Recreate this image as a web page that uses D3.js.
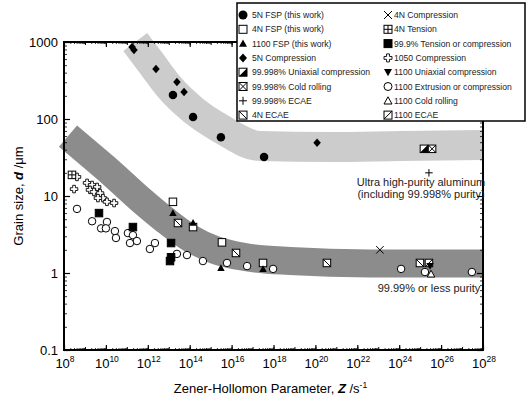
<!DOCTYPE html>
<html>
<head>
<meta charset="utf-8">
<script src="https://cdn.jsdelivr.net/npm/d3@7"></script>
<style>
body { margin: 0; background: #fff; }
svg { font-family: "Liberation Sans", Arial, sans-serif; }
</style>
</head>
<body>
<div id="vis"></div>
<script>
// every point is [log10 Z, d in um]
var fsp5N = [[13.20, 205], [14.16, 106], [15.49, 58], [17.55, 32]];
var fsp4N = [[13.20, 8.4], [14.16, 3.95], [15.54, 2.5], [17.50, 1.35]];
var fsp1100 = [[13.20, 6.0], [14.16, 4.5], [15.49, 1.16], [17.50, 1.13]];
var comp5N = [[11.25, 860], [11.34, 790], [12.39, 446], [13.39, 303], [13.73, 224], [20.08, 49]];
var uni99998 = [[25.18, 41]];
var roll99998 = [[25.57, 41]];
var ecae99998 = [[25.42, 20]];
var ecae4N = [[13.44, 4.46], [16.21, 1.82], [20.55, 1.35], [24.99, 1.35]];
var comp4N = [[23.08, 2.0]];
var tens4N = [[8.38, 18.8]];
var tc999 = [[9.67, 6.0], [11.29, 3.95], [13.11, 2.45], [13.11, 1.6], [13.06, 1.43]];
var comp1050 = [[8.62, 17.7], [8.48, 12.3], [9.10, 14.8], [9.34, 13.9], [9.24, 12.0], [9.58, 13.1],
                [9.43, 11.3], [9.72, 10.9], [9.86, 9.4], [10.05, 8.4], [10.39, 8.1], [9.62, 9.4]];
var uni1100 = [[25.47, 1.23]];
var ext1100 = [[8.62, 6.8], [9.34, 4.7], [10.05, 4.6], [9.77, 3.8], [10.00, 3.8], [10.43, 3.5],
               [10.48, 2.85], [11.05, 3.3], [11.29, 3.1], [11.15, 2.45], [11.48, 2.6], [12.10, 2.05],
               [12.34, 2.45], [13.39, 1.77], [13.87, 1.71], [14.63, 1.43], [15.78, 1.35], [16.74, 1.23],
               [17.98, 1.13], [24.09, 1.13], [25.23, 1.03], [27.47, 1.03]];
var roll1100 = [[25.52, 0.97]];
var ecae1100 = [[25.42, 1.35]];

// trend bands (centre lines)
var bandLow = [[8.19, 60], [9.15, 36], [10.20, 20.5], [11.63, 9.1], [12.82, 4.9], [14.01, 2.85],
               [15.21, 1.99], [16.64, 1.61], [18.79, 1.43], [22.61, 1.33], [28, 1.33]];
var bandHigh = [[11.40, 1000], [12.10, 560], [13.06, 253], [14.16, 131], [15.45, 76],
                [17.36, 44.6], [20.70, 43.3], [24.04, 44.6], [28, 45.9]];

var xExps = [8, 10, 12, 14, 16, 18, 20, 22, 24, 26, 28];
var yTicks = [0.1, 1, 10, 100, 1000];
var yLabels = ["0.1", "1", "10", "100", "1000"];

var series = [
  {name: "5N FSP (this work)", type: "circleFill", pts: fsp5N},
  {name: "4N FSP (this work)", type: "squareOpen", pts: fsp4N},
  {name: "1100 FSP (this work)", type: "triUpFill", pts: fsp1100},
  {name: "5N Compression", type: "diamondFill", pts: comp5N},
  {name: "99.998% Uniaxial compression", type: "squareHalf", pts: uni99998},
  {name: "99.998% Cold rolling", type: "squareX", pts: roll99998},
  {name: "99.998% ECAE", type: "plus", pts: ecae99998},
  {name: "4N ECAE", type: "squareDiagDown", pts: ecae4N},
  {name: "4N Compression", type: "cross", pts: comp4N},
  {name: "4N Tension", type: "squarePlus", pts: tens4N},
  {name: "99.9% Tension or compression", type: "squareFill", pts: tc999},
  {name: "1050 Compression", type: "greekCross", pts: comp1050},
  {name: "1100 Uniaxial compression", type: "triDownFill", pts: uni1100},
  {name: "1100 Extrusion or compression", type: "circleOpen", pts: ext1100},
  {name: "1100 Cold rolling", type: "triUpOpen", pts: roll1100},
  {name: "1100 ECAE", type: "squareDiagUp", pts: ecae1100}
];

var width = 529, height = 402;
var margin = {top: 42, right: 46, bottom: 52, left: 64};

var svg = d3.select("#vis").append("svg")
  .attr("width", width)
  .attr("height", height);

var x = d3.scaleLog().domain([1e8, 1e28]).range([margin.left, width - margin.right]);
var y = d3.scaleLog().domain([0.1, 1000]).range([height - margin.bottom, margin.top]);

function px(d) { return x(Math.pow(10, d[0])); }
function py(d) { return y(d[1]); }

// bands
var bandLine = d3.line().x(px).y(py).curve(d3.curveMonotoneX);

svg.append("path")
  .attr("d", bandLine(bandHigh))
  .attr("fill", "none")
  .attr("stroke", "#cccccc")
  .attr("stroke-width", 30);

svg.append("path")
  .attr("d", bandLine(bandLow))
  .attr("fill", "none")
  .attr("stroke", "#8c8c8c")
  .attr("stroke-width", 28);

// ticks
var xMinor = [], xDecade = [];
for (var e = 8; e < 28; e++) {
  xDecade.push(Math.pow(10, e));
  for (var m = 2; m < 10; m++) xMinor.push(m * Math.pow(10, e));
}
var yMinor = [];
for (var e2 = -1; e2 < 3; e2++) {
  for (var m2 = 2; m2 < 10; m2++) yMinor.push(m2 * Math.pow(10, e2));
}
var xMajor = xExps.map(function(e) { return Math.pow(10, e); });

var x0 = margin.left, x1 = width - margin.right;
var y0 = height - margin.bottom, y1 = margin.top;

function tickSet(vals, len, sw) {
  svg.append("g").attr("transform", "translate(0," + y0 + ")")
    .call(d3.axisBottom(x).tickValues(vals).tickSize(-len).tickFormat(""))
    .call(function(g) { g.select(".domain").remove(); g.selectAll("line").attr("stroke-width", sw); });
  svg.append("g").attr("transform", "translate(0," + y1 + ")")
    .call(d3.axisTop(x).tickValues(vals).tickSize(-len).tickFormat(""))
    .call(function(g) { g.select(".domain").remove(); g.selectAll("line").attr("stroke-width", sw); });
}
tickSet(xMinor, 2, 0.8);
tickSet(xDecade, 3, 1);
tickSet(xMajor, 5, 1.2);

function yTickSet(vals, len, sw) {
  svg.append("g").attr("transform", "translate(" + x0 + ",0)")
    .call(d3.axisLeft(y).tickValues(vals).tickSize(-len).tickFormat(""))
    .call(function(g) { g.select(".domain").remove(); g.selectAll("line").attr("stroke-width", sw); });
  svg.append("g").attr("transform", "translate(" + x1 + ",0)")
    .call(d3.axisRight(y).tickValues(vals).tickSize(-len).tickFormat(""))
    .call(function(g) { g.select(".domain").remove(); g.selectAll("line").attr("stroke-width", sw); });
}
yTickSet(yMinor, 3, 0.8);
yTickSet(yTicks, 6, 1.2);

// frame
svg.append("rect")
  .attr("x", x0).attr("y", y1)
  .attr("width", x1 - x0).attr("height", y0 - y1)
  .attr("fill", "none")
  .attr("stroke", "#000")
  .attr("stroke-width", 2);

// tick labels
svg.selectAll(".ylab")
  .data(yTicks)
  .enter().append("text")
  .attr("x", x0 - 6)
  .attr("y", function(d) { return y(d); })
  .attr("dy", "0.36em")
  .attr("text-anchor", "end")
  .attr("font-size", 13)
  .text(function(d, i) { return yLabels[i]; });

var xl = svg.selectAll(".xlab")
  .data(xExps)
  .enter().append("text")
  .attr("x", function(d) { return x(Math.pow(10, d)) + 1; })
  .attr("y", y0 + 18)
  .attr("text-anchor", "middle")
  .attr("font-size", 13)
  .text("10");
xl.append("tspan")
  .attr("dy", -6)
  .attr("font-size", 8.5)
  .text(function(d) { return d; });

// axis titles
var xt = svg.append("text")
  .attr("x", (x0 + x1) / 2 - 3)
  .attr("y", 393)
  .attr("text-anchor", "middle")
  .attr("font-size", 13)
  .text("Zener-Hollomon Parameter, ");
xt.append("tspan").attr("font-weight", "bold").attr("font-style", "italic").text("Z");
xt.append("tspan").text(" /s");
xt.append("tspan").attr("dy", -5).attr("font-size", 8.5).text("-1");

var yt = svg.append("text")
  .attr("transform", "translate(23," + ((y0 + y1) / 2) + ") rotate(-90)")
  .attr("text-anchor", "middle")
  .attr("font-size", 13)
  .text("Grain size, ");
yt.append("tspan").attr("font-weight", "bold").attr("font-style", "italic").text("d");
yt.append("tspan").text(" /\u03bcm");

// markers
function marker(g, type, s) {
  var h = s / 2;
  var sq = function(fill) {
    return g.append("rect").attr("x", -h).attr("y", -h).attr("width", s).attr("height", s)
      .attr("fill", fill).attr("stroke", "#000").attr("stroke-width", 1);
  };
  var ln = function(a, b, c, d) {
    g.append("line").attr("x1", a).attr("y1", b).attr("x2", c).attr("y2", d)
      .attr("stroke", "#000").attr("stroke-width", 1);
  };
  switch (type) {
    case "circleFill":
      g.append("circle").attr("r", h + 0.5).attr("fill", "#000"); break;
    case "circleOpen":
      g.append("circle").attr("r", h).attr("fill", "#fff").attr("stroke", "#000"); break;
    case "squareOpen": sq("#fff"); break;
    case "squareFill": sq("#000"); break;
    case "triUpFill":
      g.append("path").attr("d", "M0," + (-h) + "L" + h + "," + (h * 0.8) + "L" + (-h) + "," + (h * 0.8) + "Z")
        .attr("fill", "#000"); break;
    case "triUpOpen":
      g.append("path").attr("d", "M0," + (-h) + "L" + h + "," + (h * 0.8) + "L" + (-h) + "," + (h * 0.8) + "Z")
        .attr("fill", "#fff").attr("stroke", "#000"); break;
    case "triDownFill":
      g.append("path").attr("d", "M0," + h + "L" + h + "," + (-h * 0.8) + "L" + (-h) + "," + (-h * 0.8) + "Z")
        .attr("fill", "#000"); break;
    case "diamondFill":
      g.append("path").attr("d", "M0," + (-h - 0.5) + "L" + h + ",0L0," + (h + 0.5) + "L" + (-h) + ",0Z")
        .attr("fill", "#000"); break;
    case "squareHalf":
      sq("#fff");
      g.append("path").attr("d", "M" + (-h) + "," + h + "L" + h + "," + h + "L" + h + "," + (-h) + "Z")
        .attr("fill", "#000"); break;
    case "squareX":
      sq("#fff"); ln(-h, -h, h, h); ln(-h, h, h, -h); break;
    case "squarePlus":
      sq("#fff"); ln(0, -h, 0, h); ln(-h, 0, h, 0); break;
    case "squareDiagDown":
      sq("#fff"); ln(-h, -h, h, h); break;
    case "squareDiagUp":
      sq("#fff"); ln(-h, h, h, -h); break;
    case "plus":
      ln(0, -h, 0, h); ln(-h, 0, h, 0); break;
    case "cross":
      ln(-h, -h, h, h); ln(-h, h, h, -h); break;
    case "greekCross":
      var a = s * 0.18;
      g.append("path").attr("d",
        "M" + (-a) + "," + (-h) + "L" + a + "," + (-h) + "L" + a + "," + (-a) + "L" + h + "," + (-a) +
        "L" + h + "," + a + "L" + a + "," + a + "L" + a + "," + h + "L" + (-a) + "," + h +
        "L" + (-a) + "," + a + "L" + (-h) + "," + a + "L" + (-h) + "," + (-a) + "L" + (-a) + "," + (-a) + "Z")
        .attr("fill", "#fff").attr("stroke", "#000").attr("stroke-width", 0.9); break;
  }
}

// draw open circles and crosses first, the rest on top
var drawOrder = [13, 11, 9, 0, 3, 1, 2, 10, 7, 15, 12, 14, 8, 4, 5, 6];
drawOrder.forEach(function(i) {
  var s = series[i];
  svg.append("g").selectAll("g")
    .data(s.pts)
    .enter().append("g")
    .attr("transform", function(d) { return "translate(" + px(d) + "," + py(d) + ")"; })
    .each(function() { marker(d3.select(this), s.type, 7.5); });
});

// annotations
svg.append("text").attr("x", 421).attr("y", 186).attr("text-anchor", "middle")
  .attr("font-size", 11).attr("fill", "#222").text("Ultra high-purity aluminum");
svg.append("text").attr("x", 421).attr("y", 198).attr("text-anchor", "middle")
  .attr("font-size", 11).attr("fill", "#222").text("(including 99.998% purity)");
svg.append("text").attr("x", 429).attr("y", 292).attr("text-anchor", "middle")
  .attr("font-size", 11).attr("fill", "#222").text("99.99% or less purity");

// legend
var lg = svg.append("g");
lg.append("rect")
  .attr("x", 237).attr("y", 3)
  .attr("width", 288).attr("height", 118)
  .attr("fill", "#fff")
  .attr("stroke", "#000")
  .attr("stroke-width", 1.5);

var item = lg.selectAll(".item")
  .data(series)
  .enter().append("g")
  .attr("transform", function(d, i) {
    var col = Math.floor(i / 8), row = i % 8;
    return "translate(" + (col ? 388 : 243) + "," + (15 + row * 14.3) + ")";
  });
item.each(function(d) { marker(d3.select(this), d.type, 8); });
item.append("text")
  .attr("x", function(d, i) { return i < 8 ? 9 : 6; })
  .attr("dy", "0.35em")
  .attr("font-size", 8.6)
  .attr("fill", "#222")
  .text(function(d) { return d.name; });
</script>
</body>
</html>
